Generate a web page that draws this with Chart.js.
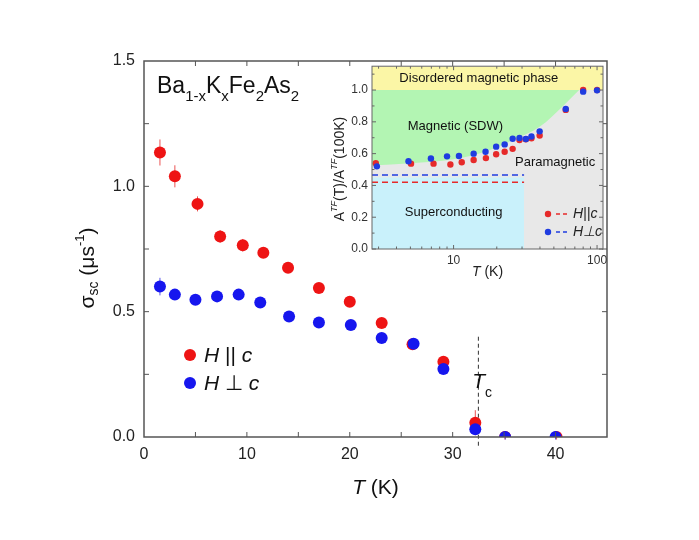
<!DOCTYPE html>
<html lang="en">
<head>
  <meta charset="UTF-8" />
  <title>Ba1-xKxFe2As2 sigma_sc vs T</title>
  <script src="https://cdn.jsdelivr.net/npm/chart.js@4.4.1/dist/chart.umd.min.js"></script>
  <style>
    html, body { margin: 0; padding: 0; background: #fff; }
    #wrap { position: relative; width: 699px; height: 540px; }
    #mainChart { position: absolute; left: 0; top: 0; }
    #insetChart { position: absolute; left: 325px; top: 55px; }
  </style>
</head>
<body>
<div id="wrap">
  <canvas id="mainChart" width="699" height="540"></canvas>
  <canvas id="insetChart" width="287" height="230"></canvas>
</div>
<script>
  // main panel: sigma_sc (us^-1) vs T (K)
  const tPar    = [1.55, 3.0, 5.2, 7.4, 9.6, 11.6, 14.0, 17.0, 20.0, 23.1, 26.1, 29.1, 32.2, 35.1, 40.1];
  const sigPar  = [1.135, 1.04, 0.93, 0.80, 0.765, 0.735, 0.675, 0.594, 0.54, 0.455, 0.37, 0.30, 0.057, 0.0, 0.0];
  const errPar  = [0.052, 0.044, 0.03, 0.025, 0.025, 0.02, 0.015, 0.015, 0.015, 0.015, 0.015, 0.015, 0.05, 0.01, 0.01];
  const tPerp   = [1.55, 3.0, 5.0, 7.1, 9.2, 11.3, 14.1, 17.0, 20.1, 23.1, 26.2, 29.1, 32.2, 35.1, 40.0];
  const sigPerp = [0.60, 0.568, 0.548, 0.561, 0.568, 0.537, 0.481, 0.457, 0.447, 0.395, 0.372, 0.271, 0.031, 0.0, 0.0];
  const errPerp = [0.035, 0.02, 0.02, 0.02, 0.02, 0.02, 0.015, 0.015, 0.015, 0.015, 0.015, 0.015, 0.02, 0.01, 0.01];
  const tcT = 32.5;
  const tcSpan = [0.40, -0.045];
  const mainXTicks = [0, 10, 20, 30, 40];
  const mainYTicks = [0, 0.5, 1.0, 1.5];

  // inset: A_TF(T)/A_TF(100K) vs T (log)
  const insTPar  = [2.87, 5.05, 7.25, 9.5, 11.4, 13.8, 16.8, 19.8, 22.7, 25.8, 28.8, 31.9, 34.9, 39.8, 60.5, 80, 100];
  const insAPar  = [0.54, 0.537, 0.537, 0.532, 0.546, 0.56, 0.572, 0.596, 0.612, 0.63, 0.685, 0.69, 0.696, 0.714, 0.875, 1.0, 1.0];
  const insTPerp = [2.92, 4.85, 6.95, 9.0, 10.9, 13.8, 16.7, 19.8, 22.7, 25.8, 28.8, 31.9, 34.9, 39.8, 60.5, 80, 100];
  const insAPerp = [0.52, 0.552, 0.569, 0.583, 0.585, 0.6, 0.612, 0.644, 0.658, 0.694, 0.698, 0.692, 0.708, 0.74, 0.881, 0.99, 0.998];
  const sdwT = [2.7, 5, 10, 17, 26, 40, 58, 75];
  const sdwA = [0.525, 0.54, 0.565, 0.615, 0.685, 0.77, 0.9, 1.0];
  const scTmax = 31;
  const scAmax = 0.45;
  const scLevelPar = 0.42;
  const scLevelPerp = 0.466;
  const insXRange = [2.7, 110];
  const insYRange = [0, 1.15];
  const insXTicks = [10, 100];
  const insXMinor = [3, 4, 5, 6, 7, 8, 9, 20, 30, 40, 50, 60, 70, 80, 90];
  const insYTicks = [0, 0.2, 0.4, 0.6, 0.8, 1.0];

  const FONT = '"Liberation Sans", Arial, sans-serif';
  Chart.defaults.font.family = FONT;
  Chart.defaults.color = '#222';

  const RED = '#ee1414', BLUE = '#1616ee';
  const iRED = '#e62a2a', iBLUE = '#1f3ce0';

  function pts(xs, ys) { return xs.map((x, i) => ({ x: x, y: ys[i] })); }

  // text with sub/superscripts: parts = [{t, size, dy, italic}]
  function drawRich(ctx, parts, x, y, align) {
    let w = 0;
    parts.forEach(p => {
      ctx.font = (p.italic ? 'italic ' : '') + p.size + 'px ' + FONT;
      p.w = ctx.measureText(p.t).width;
      w += p.w;
    });
    let cx = align === 'center' ? x - w / 2 : (align === 'right' ? x - w : x);
    ctx.textAlign = 'left';
    parts.forEach(p => {
      ctx.font = (p.italic ? 'italic ' : '') + p.size + 'px ' + FONT;
      ctx.fillText(p.t, cx, y + (p.dy || 0));
      cx += p.w;
    });
  }

  function inwardTicks(ctx, a, sx, sy, xs, ys, len) {
    ctx.beginPath();
    xs.forEach(v => {
      const px = sx.getPixelForValue(v);
      ctx.moveTo(px, a.bottom); ctx.lineTo(px, a.bottom - len);
      ctx.moveTo(px, a.top); ctx.lineTo(px, a.top + len);
    });
    ys.forEach(v => {
      const py = sy.getPixelForValue(v);
      ctx.moveTo(a.left, py); ctx.lineTo(a.left + len, py);
      ctx.moveTo(a.right, py); ctx.lineTo(a.right - len, py);
    });
    ctx.stroke();
  }

  const mainDecor = {
    id: 'mainDecor',
    beforeDatasetsDraw(chart) {
      const ctx = chart.ctx, sx = chart.scales.x, sy = chart.scales.y;
      ctx.save();
      ctx.lineWidth = 1;
      [[tPar, sigPar, errPar, 'rgba(230,40,40,0.8)'], [tPerp, sigPerp, errPerp, 'rgba(40,40,230,0.8)']].forEach(s => {
        ctx.strokeStyle = s[3];
        ctx.beginPath();
        s[0].forEach((t, i) => {
          const px = sx.getPixelForValue(t);
          ctx.moveTo(px, sy.getPixelForValue(s[1][i] + s[2][i]));
          ctx.lineTo(px, sy.getPixelForValue(s[1][i] - s[2][i]));
        });
        ctx.stroke();
      });
      ctx.restore();
    },
    afterDraw(chart) {
      const ctx = chart.ctx, a = chart.chartArea, sx = chart.scales.x, sy = chart.scales.y;
      ctx.save();
      ctx.strokeStyle = '#555';
      ctx.lineWidth = 1.5;
      ctx.strokeRect(a.left, a.top, a.right - a.left, a.bottom - a.top);
      ctx.lineWidth = 1;
      const xs = [], ys = [];
      for (let v = 5; v < 45; v += 5) xs.push(v);
      for (let v = 0.25; v < 1.5; v += 0.25) ys.push(v);
      inwardTicks(ctx, a, sx, sy, xs, ys, 5);

      ctx.fillStyle = '#111';
      ctx.textBaseline = 'alphabetic';
      drawRich(ctx, [
        { t: 'Ba', size: 23 }, { t: '1-x', size: 15, dy: 8 }, { t: 'K', size: 23 }, { t: 'x', size: 15, dy: 8 },
        { t: 'Fe', size: 23 }, { t: '2', size: 15, dy: 8 }, { t: 'As', size: 23 }, { t: '2', size: 15, dy: 8 }
      ], a.left + 13, a.top + 32, 'left');

      // legend
      [[RED, 'H', ' || ', 294], [BLUE, 'H', ' \u22A5 ', 322]].forEach(l => {
        ctx.fillStyle = l[0];
        ctx.beginPath();
        ctx.arc(a.left + 46, a.top + l[3], 6, 0, Math.PI * 2);
        ctx.fill();
        ctx.fillStyle = '#111';
        drawRich(ctx, [{ t: l[1], size: 21, italic: true }, { t: l[2], size: 21 }, { t: 'c', size: 21, italic: true }],
          a.left + 60, a.top + l[3] + 7, 'left');
      });

      // Tc label
      drawRich(ctx, [{ t: 'T', size: 21, italic: true }, { t: 'c', size: 14, dy: 9 }],
        sx.getPixelForValue(31.9), sy.getPixelForValue(0.196), 'left');

      // axis titles
      drawRich(ctx, [{ t: 'T', size: 21, italic: true }, { t: ' (K)', size: 21 }],
        (a.left + a.right) / 2, a.bottom + 57, 'center');
      ctx.translate(88, 268);
      ctx.rotate(-Math.PI / 2);
      ctx.textBaseline = 'middle';
      drawRich(ctx, [
        { t: '\u03C3', size: 21 }, { t: 'sc', size: 14, dy: 6 }, { t: ' (\u03BCs', size: 21 },
        { t: '-1', size: 13, dy: -8 }, { t: ')', size: 21 }
      ], 0, 0, 'center');
      ctx.restore();
    }
  };

  new Chart(document.getElementById('mainChart'), {
    type: 'scatter',
    data: {
      datasets: [
        {
          label: 'H || c', data: pts(tPar, sigPar), order: 2,
          pointRadius: 6, pointHoverRadius: 6, backgroundColor: RED, borderWidth: 0
        },
        {
          label: 'H perp c', data: pts(tPerp, sigPerp), order: 1,
          pointRadius: 6, pointHoverRadius: 6, backgroundColor: BLUE, borderWidth: 0
        },
        {
          label: 'Tc', data: [{ x: tcT, y: tcSpan[0] }, { x: tcT, y: tcSpan[1] }], order: 3,
          showLine: true, pointRadius: 0, borderColor: '#333', borderWidth: 1, borderDash: [4, 3], clip: false
        }
      ]
    },
    options: {
      responsive: false,
      animation: false,
      events: [],
      layout: { padding: { left: 0, top: 61, right: 92, bottom: 0 } },
      plugins: { legend: { display: false }, tooltip: { enabled: false } },
      scales: {
        x: {
          type: 'linear', min: 0, max: 45,
          afterBuildTicks: s => { s.ticks = mainXTicks.map(v => ({ value: v })); },
          afterFit: s => { s.height = 103; },
          grid: { display: false, drawTicks: false },
          border: { display: false },
          ticks: { padding: 8, font: { size: 16 }, color: '#222', callback: v => String(v) }
        },
        y: {
          type: 'linear', min: 0, max: 1.5,
          afterBuildTicks: s => { s.ticks = mainYTicks.map(v => ({ value: v })); },
          afterFit: s => { s.width = 144; },
          grid: { display: false, drawTicks: false },
          border: { display: false },
          ticks: { padding: 9, font: { size: 16 }, color: '#222', callback: v => Number(v).toFixed(1) }
        }
      }
    },
    plugins: [mainDecor]
  });

  // region fills are datasets; labels go on top of them but under the points
  const insetDecor = {
    id: 'insetDecor',
    beforeDraw(chart) {
      const ctx = chart.ctx, a = chart.chartArea;
      ctx.save();
      ctx.fillStyle = '#e8e8e8';
      ctx.fillRect(a.left, a.top, a.right - a.left, a.bottom - a.top);
      ctx.restore();
    },
    beforeDatasetDraw(chart, args) {
      if (args.index !== 0) return;
      const ctx = chart.ctx, sx = chart.scales.x, sy = chart.scales.y;
      ctx.save();
      ctx.fillStyle = '#111';
      ctx.textBaseline = 'middle';
      drawRich(ctx, [{ t: 'Disordered magnetic phase', size: 13 }], sx.getPixelForValue(15), sy.getPixelForValue(1.075), 'center');
      drawRich(ctx, [{ t: 'Magnetic (SDW)', size: 13 }], sx.getPixelForValue(10.3), sy.getPixelForValue(0.77), 'center');
      drawRich(ctx, [{ t: 'Paramagnetic', size: 13 }], sx.getPixelForValue(51), sy.getPixelForValue(0.545), 'center');
      drawRich(ctx, [{ t: 'Superconducting', size: 13 }], sx.getPixelForValue(10), sy.getPixelForValue(0.233), 'center');
      ctx.restore();
    },
    afterDraw(chart) {
      const ctx = chart.ctx, a = chart.chartArea, sx = chart.scales.x, sy = chart.scales.y;
      ctx.save();
      ctx.strokeStyle = '#666';
      ctx.lineWidth = 1;
      ctx.strokeRect(a.left, a.top, a.right - a.left, a.bottom - a.top);
      inwardTicks(ctx, a, sx, sy, insXTicks, insYTicks, 4);
      const ym = [];
      for (let v = 0.1; v < 1.15; v += 0.2) ym.push(v);
      inwardTicks(ctx, a, sx, sy, insXMinor, ym, 2.5);

      // legend
      [[iRED, 'H', '||', 214], [iBLUE, 'H', '\u22A5', 232]].forEach(l => {
        const yy = l[3] - 55;
        ctx.fillStyle = l[0];
        ctx.beginPath();
        ctx.arc(a.right - 55, yy, 3.2, 0, Math.PI * 2);
        ctx.fill();
        ctx.strokeStyle = l[0];
        ctx.lineWidth = 1.5;
        ctx.setLineDash([4, 3]);
        ctx.beginPath();
        ctx.moveTo(a.right - 47, yy); ctx.lineTo(a.right - 33, yy);
        ctx.stroke();
        ctx.setLineDash([]);
        ctx.fillStyle = '#222';
        ctx.textBaseline = 'middle';
        drawRich(ctx, [{ t: l[1], size: 14, italic: true }, { t: l[2], size: 14, italic: true }, { t: 'c', size: 14, italic: true }],
          a.right - 30, yy, 'left');
      });

      ctx.fillStyle = '#222';
      ctx.textBaseline = 'middle';
      drawRich(ctx, [{ t: 'T', size: 14, italic: true }, { t: ' (K)', size: 14 }], (a.left + a.right) / 2, a.bottom + 23, 'center');
      ctx.translate(15, 114);
      ctx.rotate(-Math.PI / 2);
      drawRich(ctx, [
        { t: 'A', size: 14 }, { t: 'TF', size: 9, italic: true, dy: -6 }, { t: '(T)/A', size: 14 },
        { t: 'TF', size: 9, italic: true, dy: -6 }, { t: '(100K)', size: 14 }
      ], 0, 0, 'center');
      ctx.restore();
    }
  };

  new Chart(document.getElementById('insetChart'), {
    type: 'scatter',
    data: {
      datasets: [
        {
          label: 'H||c', data: pts(insTPar, insAPar), order: 2,
          pointRadius: 3.2, pointHoverRadius: 3.2, backgroundColor: iRED, borderWidth: 0
        },
        {
          label: 'Hperp c', data: pts(insTPerp, insAPerp), order: 1,
          pointRadius: 3.2, pointHoverRadius: 3.2, backgroundColor: iBLUE, borderWidth: 0
        },
        {
          label: 'sc level par', data: [{ x: insXRange[0], y: scLevelPar }, { x: scTmax, y: scLevelPar }], order: 4,
          showLine: true, pointRadius: 0, borderColor: iRED, borderWidth: 1.5, borderDash: [6, 4]
        },
        {
          label: 'sc level perp', data: [{ x: insXRange[0], y: scLevelPerp }, { x: scTmax, y: scLevelPerp }], order: 4,
          showLine: true, pointRadius: 0, borderColor: iBLUE, borderWidth: 1.5, borderDash: [6, 4]
        },
        {
          label: 'disordered', data: [{ x: insXRange[0], y: insYRange[1] }, { x: insXRange[1], y: insYRange[1] }], order: 9,
          showLine: true, pointRadius: 0, borderWidth: 0, backgroundColor: '#fbf6a6', fill: { value: 1.0 }
        },
        {
          label: 'SDW', data: pts(sdwT, sdwA), order: 8,
          showLine: true, pointRadius: 0, borderWidth: 0, cubicInterpolationMode: 'monotone',
          backgroundColor: '#b3f5b3', fill: { value: 1.0 }
        },
        {
          label: 'SC', data: [{ x: insXRange[0], y: scAmax }, { x: scTmax, y: scAmax }], order: 8,
          showLine: true, pointRadius: 0, borderWidth: 0, backgroundColor: '#c9f1fb', fill: 'origin'
        }
      ]
    },
    options: {
      responsive: false,
      animation: false,
      events: [],
      layout: { padding: { left: 0, top: 10, right: 9, bottom: 0 } },
      plugins: { legend: { display: false }, tooltip: { enabled: false } },
      scales: {
        x: {
          type: 'logarithmic', min: insXRange[0], max: insXRange[1],
          afterBuildTicks: s => { s.ticks = insXTicks.map(v => ({ value: v })); },
          afterFit: s => { s.height = 36; },
          grid: { display: false, drawTicks: false },
          border: { display: false },
          ticks: { padding: 4, font: { size: 12 }, color: '#333', autoSkip: false, maxRotation: 0, callback: v => String(v) }
        },
        y: {
          type: 'linear', min: insYRange[0], max: insYRange[1],
          afterBuildTicks: s => { s.ticks = insYTicks.map(v => ({ value: v })); },
          afterFit: s => { s.width = 47; },
          grid: { display: false, drawTicks: false },
          border: { display: false },
          ticks: { padding: 4, font: { size: 12 }, color: '#333', callback: v => Number(v).toFixed(1) }
        }
      }
    },
    plugins: [insetDecor]
  });
</script>
</body>
</html>
